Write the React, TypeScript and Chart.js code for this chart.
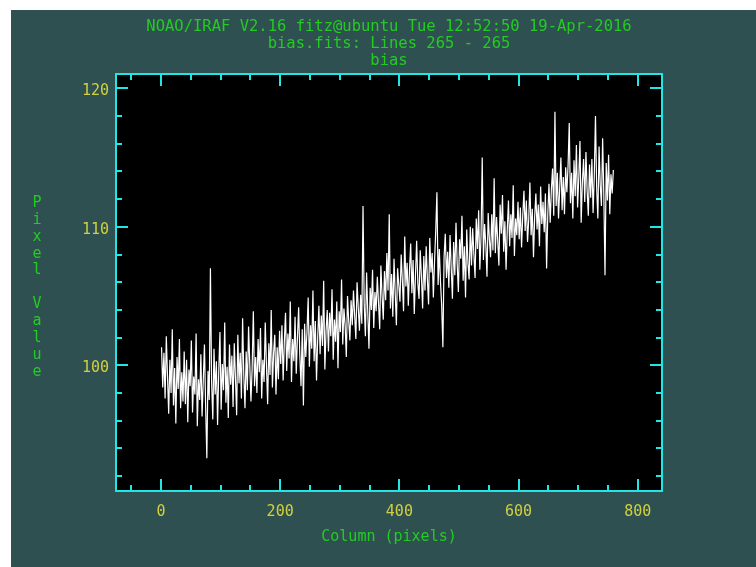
import React, { useEffect, useRef } from "react";
import { Chart, registerables } from "chart.js";

Chart.register(...registerables);

// ---- data ----
const titleLines = [
  "NOAO/IRAF V2.16 fitz@ubuntu Tue 12:52:50 19-Apr-2016",
  "bias.fits: Lines 265 - 265",
  "bias",
];
const xAxisTitle = "Column (pixels)";
const yAxisTitle = "Pixel Value";

const firstColumn = 1;
const columnStep = 2;

const pixelValues = [
  // cols 1-39
  101.3, 98.4, 100.9, 97.6, 102.1, 99.2, 96.5, 100.4, 98.0, 102.6, 97.1, 99.8, 95.8, 100.6, 98.3, 101.9, 96.9, 99.5, 97.4, 101.0,
  // cols 41-79
  97.2, 100.4, 95.9, 99.7, 98.5, 101.8, 96.6, 99.2, 97.9, 102.3, 95.6, 99.0, 97.5, 100.8, 96.3, 98.9, 101.5, 97.0, 93.3, 99.6,
  // cols 81-119
  97.5, 107.0, 98.8, 96.1, 101.2, 97.9, 100.3, 95.7, 99.6, 102.4, 96.8, 100.1, 98.2, 103.1, 97.3, 99.9, 96.2, 101.5, 98.6, 100.7,
  // cols 121-159
  97.0, 101.6, 99.1, 96.4, 102.2, 98.7, 100.9, 97.6, 103.4, 99.3, 96.9, 101.0, 98.2, 102.8, 100.1, 97.4, 99.8, 103.9, 98.5, 100.6,
  // cols 161-199
  98.0, 101.9, 99.5, 102.7, 97.6, 100.4, 98.8, 103.1, 100.0, 97.2, 101.6, 99.3, 104.0, 98.4, 100.9, 102.2, 97.9, 101.3, 99.0, 102.5,
  // cols 201-239
  100.1, 102.9, 98.9, 101.7, 103.8, 99.6, 102.3, 100.5, 104.6, 98.8, 101.9, 100.3, 103.5, 99.4, 102.0, 104.2, 100.7, 98.5, 102.6, 97.1,
  // cols 241-279
  103.0, 100.6, 102.4, 104.9, 99.9, 102.9, 101.2, 105.4, 100.3, 103.2, 98.9, 102.0, 104.3, 100.8, 103.6, 101.4, 106.1, 99.7, 102.5, 104.0,
  // cols 281-319
  101.0, 103.8, 102.1, 105.5, 100.4, 103.3, 101.7, 104.6, 99.8, 103.9, 102.4, 106.2, 101.5, 104.1, 102.9, 100.6, 105.0, 103.2, 101.8, 104.7,
  // cols 321-359
  102.9, 105.4, 103.6, 101.9, 106.0, 104.2, 102.5, 105.1, 103.0, 111.5, 104.4, 102.1, 106.7, 103.8, 101.2, 105.6, 104.0, 106.9, 102.7, 105.3,
  // cols 361-399
  103.9, 106.4, 104.5, 102.6, 107.2, 105.0, 103.3, 106.8, 104.7, 108.1, 105.4, 110.9, 104.1, 106.6, 103.5, 107.7, 105.2, 102.9, 107.0, 105.8,
  // cols 401-439
  104.6, 108.0, 106.1, 103.9, 109.3, 105.7, 107.4, 104.3, 106.9, 108.8, 105.2, 107.6, 103.7, 106.5, 109.0, 105.9, 104.8, 108.3, 106.4, 104.1,
  // cols 441-479
  107.9, 105.4, 108.6, 106.2, 104.4, 109.2, 106.7, 108.1, 104.9, 107.5, 109.7, 112.5, 105.8, 108.4, 106.0, 104.3, 101.3, 107.8, 109.5, 106.3,
  // cols 481-519
  108.2, 105.6, 109.4, 107.0, 104.8, 108.9, 106.5, 110.3, 107.3, 105.3, 109.1, 107.7, 110.8, 106.1, 108.6, 104.9, 109.8, 107.4, 106.2, 110.0,
  // cols 521-559
  107.2, 109.9, 108.0, 106.3, 110.6, 108.4, 111.2, 106.9, 109.3, 115.0, 107.6, 110.2, 108.7, 106.4, 111.0, 109.1, 107.8, 110.9, 108.3, 113.5,
  // cols 561-599
  108.1, 110.7, 109.0, 107.2, 111.6, 109.5, 112.3, 108.2, 110.4, 106.9, 109.8, 111.9, 108.6, 110.9, 109.2, 113.0, 107.9, 110.6, 109.4, 111.8,
  // cols 601-639
  109.1, 111.4, 108.5, 110.8, 112.6, 109.7, 111.9, 108.9, 110.5, 113.2, 109.4, 111.3, 107.8, 110.7, 112.4, 109.8, 111.6, 108.6, 112.9, 110.2,
  // cols 641-679
  111.8, 109.6, 112.4, 107.0, 110.9, 113.1, 110.3, 112.7, 114.2, 110.8, 118.3, 111.5, 113.9, 110.6, 112.8, 115.0, 111.2, 113.6, 110.9, 114.3,
  // cols 681-719
  112.5, 114.4, 117.5, 111.7, 113.9, 110.6, 114.8, 112.2, 115.9, 111.4, 113.6, 116.2, 110.3, 113.2, 114.9, 111.8, 115.4, 112.6, 110.8, 114.5,
  // cols 721-759
  112.1, 114.9, 111.0, 113.7, 118.0, 112.8, 110.6, 115.8, 113.0, 111.5, 116.4, 112.3, 106.5, 114.6, 111.9, 115.2, 110.9, 113.8, 112.4, 114.1,
];

const xLabelTicks = [0, 200, 400, 600, 800];
const yLabelTicks = [100, 110, 120];
const xMin = -75.4;
const xMax = 840.6;
const yMin = 90.93;
const yMax = 121.03;

// ---- styles ----
const SLATE = "#2f5050";
const GREEN = "#22cc22";
const YELLOW = "#d0d040";
const CYAN = "#20e6e6";
const MONO = '"DejaVu Sans Mono", "Liberation Mono", monospace';

const irafPlugin = {
  id: "irafDecor",
  beforeDraw(chart: any) {
    const { ctx, chartArea: a, width, height } = chart;
    ctx.save();
    ctx.fillStyle = "#ffffff";
    ctx.fillRect(0, 0, width, height);
    ctx.fillStyle = SLATE;
    ctx.fillRect(11, 10, width - 11, height - 10);
    ctx.fillStyle = "#000000";
    ctx.fillRect(a.left, a.top, a.right - a.left, a.bottom - a.top);
    // title
    ctx.fillStyle = GREEN;
    ctx.font = `15.5px ${MONO}`;
    ctx.textAlign = "center";
    ctx.textBaseline = "middle";
    const cx = (a.left + a.right) / 2;
    titleLines.forEach((t, i) => ctx.fillText(t, cx, 27 + i * 17));
    // vertical stacked y label
    ctx.font = `15px ${MONO}`;
    const chars = yAxisTitle.split("");
    const step = 16.9;
    const y0 = (a.top + a.bottom) / 2 + 5 - ((chars.length - 1) * step) / 2;
    chars.forEach((c, i) => ctx.fillText(c, 37, y0 + i * step));
    ctx.restore();
  },
  afterDatasetsDraw(chart: any) {
    const { ctx, chartArea: a, scales } = chart;
    const xs = scales.x;
    const ys = scales.y;
    ctx.save();
    ctx.strokeStyle = CYAN;
    ctx.lineWidth = 2;
    ctx.lineCap = "butt";
    ctx.strokeRect(a.left, a.top, a.right - a.left, a.bottom - a.top);
    const major = 12;
    const minor = 6;
    ctx.beginPath();
    for (let v = -50; v <= 850; v += 50) {
      const px = Math.round(xs.getPixelForValue(v));
      if (px <= a.left + 1 || px >= a.right - 1) continue;
      const len = v % 200 === 0 ? major : minor;
      ctx.moveTo(px, a.bottom);
      ctx.lineTo(px, a.bottom - len);
      ctx.moveTo(px, a.top);
      ctx.lineTo(px, a.top + len);
    }
    for (let v = 92; v <= 120; v += 2) {
      const py = Math.round(ys.getPixelForValue(v));
      if (py <= a.top + 1 || py >= a.bottom - 1) continue;
      const len = v % 10 === 0 ? major : minor;
      ctx.moveTo(a.left, py);
      ctx.lineTo(a.left + len, py);
      ctx.moveTo(a.right, py);
      ctx.lineTo(a.right - len, py);
    }
    ctx.stroke();
    ctx.restore();
  },
};

export default function App() {
  const ref = useRef<HTMLCanvasElement | null>(null);

  useEffect(() => {
    document.body.style.margin = "0";
    const canvas = ref.current;
    if (!canvas) return;
    const points = pixelValues.map((v, i) => ({ x: firstColumn + i * columnStep, y: v }));
    const chart = new Chart(canvas, {
      type: "line",
      data: {
        datasets: [
          {
            data: points,
            borderColor: "#ffffff",
            borderWidth: 1.2,
            pointRadius: 0,
            tension: 0,
          },
        ],
      },
      options: {
        animation: false,
        responsive: false,
        devicePixelRatio: 1,
        layout: { padding: { left: 0, top: 74, right: 94, bottom: 0 } },
        plugins: { legend: { display: false }, tooltip: { enabled: false }, title: { display: false } },
        scales: {
          x: {
            type: "linear",
            min: xMin,
            max: xMax,
            grid: { display: false, drawTicks: false },
            border: { display: false },
            afterBuildTicks: (s: any) => {
              s.ticks = xLabelTicks.map((v) => ({ value: v }));
            },
            afterFit: (s: any) => {
              s.height = 76;
            },
            ticks: {
              color: YELLOW,
              font: { family: MONO, size: 15 },
              padding: 12,
              maxRotation: 0,
              autoSkip: false,
            },
            title: {
              display: true,
              text: xAxisTitle,
              color: GREEN,
              font: { family: MONO, size: 15 },
              padding: { top: 0, bottom: 21 },
            },
          },
          y: {
            type: "linear",
            min: yMin,
            max: yMax,
            grid: { display: false, drawTicks: false },
            border: { display: false },
            afterBuildTicks: (s: any) => {
              s.ticks = yLabelTicks.map((v) => ({ value: v }));
            },
            afterFit: (s: any) => {
              s.width = 116;
            },
            ticks: {
              color: YELLOW,
              font: { family: MONO, size: 15 },
              padding: 7,
              labelOffset: 3,
              autoSkip: false,
            },
          },
        },
      },
      plugins: [irafPlugin],
    });
    return () => chart.destroy();
  }, []);

  return (
    <div style={{ position: "absolute", left: 0, top: 0, width: 756, height: 567 }}>
      <canvas ref={ref} width={756} height={567} style={{ display: "block", width: 756, height: 567 }} />
    </div>
  );
}
